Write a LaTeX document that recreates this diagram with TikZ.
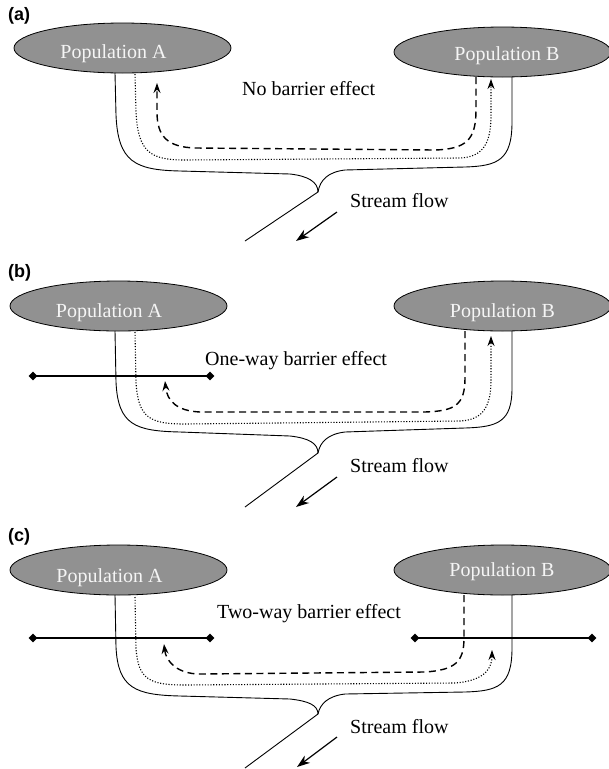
\documentclass[tikz,border=0pt]{standalone}
\usepackage{fontspec}
\setmainfont{Liberation Serif}
\newfontfamily\labelsans{Liberation Sans}
\usetikzlibrary{shapes.geometric,arrows.meta}
\definecolor{popgray}{RGB}{145,145,145}
\definecolor{poptxt}{RGB}{245,245,245}
\begin{document}
\begin{tikzpicture}[x=1pt,y=-1pt,
 pop/.style={ellipse,draw=black,line width=0.8pt,fill=popgray,minimum width=217pt,minimum height=50pt,inner sep=0pt},
 poptext/.style={text=poptxt,font=\fontsize{20}{24}\selectfont,anchor=base,inner sep=0pt},
 lbl/.style={font=\fontsize{20}{24}\selectfont,anchor=base west,inner sep=0pt},
 panel/.style={font=\labelsans\bfseries\fontsize{18}{22}\selectfont,anchor=base west,inner sep=0pt},
 bank/.style={line width=0.9pt},
 dotpath/.style={line width=1.1pt,dash pattern=on 1.1pt off 1.7pt,-{Stealth[length=10pt,width=7pt,inset=3.5pt]}},
 dashpath/.style={line width=1.4pt,dash pattern=on 7pt off 4.5pt,-{Stealth[length=10pt,width=7pt,inset=3.5pt]}},
 barrier/.style={line width=2pt},
 barend/.style={diamond,fill=black,inner sep=0pt,minimum size=9pt},
 flow/.style={line width=1.2pt,-{Stealth[length=13pt,width=9pt,inset=4pt]}}]
\fill[white] (0,0) rectangle (609,769);
\useasboundingbox (0,0) rectangle (609,769);

% ---------------- panel (a)
\node[panel] (la) at (8,20) {(a)};
\node[pop] (Aa) at (122.5,48) {};
\node[poptext] (Aat) at (113.5,58) {Population A};
\node[pop] (Ba) at (502.5,52) {};
\node[poptext] (Bat) at (507,60) {Population B};
\node[lbl] (ta) at (242,95) {No barrier effect};
\node[lbl] (sa) at (350,207) {Stream flow};
\coordinate (ja) at (318,192);
\draw[bank] (115,73) -- (116,115) .. controls (118,162) and (135,170) .. (180,171) -- (290,174) .. controls (308,176) and (318,182) .. (ja) -- (245,241);
\draw[bank] (512,77) -- (512,122) .. controls (512,160) and (498,166) .. (465,167) -- (345,170) .. controls (328,172) and (320,180) .. (ja);
\draw[dotpath] (135,74) -- (136,112) .. controls (138,152) and (150,160) .. (185,160) -- (460,158) .. controls (484,157) and (491,142) .. (491,115) -- (491,79);
\draw[dashpath] (476,77) -- (476,110) .. controls (476,140) and (466,149) .. (435,150) -- (195,148) .. controls (168,147) and (157,137) .. (157,112) -- (157,83);
\coordinate (fa1) at (337,212);
\coordinate (fa2) at (296,241);
\draw[flow] (fa1) -- (fa2);

% ---------------- panel (b)
\node[panel] (lb) at (8,277) {(b)};
\node[pop] (Ab) at (118.5,306) {};
\node[poptext] (Abt) at (109,317) {Population A};
\node[pop] (Bb) at (502.5,306) {};
\node[poptext] (Bbt) at (502.5,317) {Population B};
\node[lbl] (tb) at (205,365) {One-way barrier effect};
\node[lbl] (sb) at (350,472) {Stream flow};
\node[barend] (b1) at (33,376) {};
\node[barend] (b2) at (210,376) {};
\draw[barrier] (b1.center) -- (b2.center);
\coordinate (jb) at (318,453);
\draw[bank] (115,331) -- (116,382) .. controls (118,425) and (135,431) .. (180,432) -- (290,436) .. controls (308,438) and (318,443) .. (jb) -- (245,507);
\draw[bank] (512,331) -- (512,388) .. controls (512,422) and (498,427) .. (465,428) -- (345,432) .. controls (328,434) and (320,442) .. (jb);
\draw[dotpath] (135,332) -- (136,382) .. controls (138,418) and (150,424) .. (185,424) -- (460,421) .. controls (484,420) and (491,405) .. (491,380) -- (491,336);
\draw[dashpath] (465,331) -- (465,378) .. controls (465,405) and (455,411) .. (425,412) -- (200,412) .. controls (177,411) and (167,401) .. (165,381);
\coordinate (fb1) at (337,477);
\coordinate (fb2) at (296,507);
\draw[flow] (fb1) -- (fb2);

% ---------------- panel (c)
\node[panel] (lc) at (8,541) {(c)};
\node[pop] (Ac) at (118.5,570) {};
\node[poptext] (Act) at (109.5,582) {Population A};
\node[pop] (Bc) at (502.5,570) {};
\node[poptext] (Bct) at (502,576) {Population B};
\node[lbl] (tc) at (217,618) {Two-way barrier effect};
\node[lbl] (sc) at (350,733) {Stream flow};
\node[barend] (c1) at (33,638) {};
\node[barend] (c2) at (210,638) {};
\draw[barrier] (c1.center) -- (c2.center);
\node[barend] (c3) at (415,638) {};
\node[barend] (c4) at (592,638) {};
\draw[barrier] (c3.center) -- (c4.center);
\coordinate (jc) at (318,714);
\draw[bank] (115,595) -- (116,647) .. controls (118,688) and (135,695) .. (180,696) -- (290,699) .. controls (308,701) and (318,705) .. (jc) -- (245,768);
\draw[bank] (512,595) -- (512,648) .. controls (512,686) and (498,691) .. (465,692) -- (345,694) .. controls (328,696) and (320,704) .. (jc);
\draw[dotpath] (135,597) -- (136,648) .. controls (138,680) and (150,685) .. (185,685) -- (455,683) .. controls (480,681) and (492,672) .. (492,650);
\draw[dashpath] (464,595) -- (464,638) .. controls (464,662) and (455,670) .. (425,672) -- (200,674) .. controls (178,674) and (166,662) .. (164,644);
\coordinate (fc1) at (337,737);
\coordinate (fc2) at (297,767);
\draw[flow] (fc1) -- (fc2);
\end{tikzpicture}
\end{document}
